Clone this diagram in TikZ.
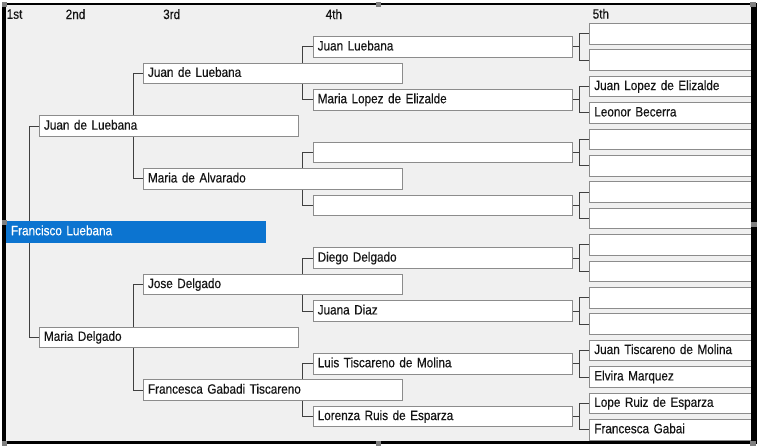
\documentclass[tikz,border=0pt]{standalone}
\usepackage{fontspec}
\setmainfont{Liberation Sans}[FakeStretch=0.87,FakeBold=0.35]
\usetikzlibrary{calc}
\definecolor{bgc}{RGB}{240,240,240}
\definecolor{boxc}{RGB}{140,140,140}
\definecolor{conc}{RGB}{64,64,64}
\definecolor{selblue}{RGB}{12,116,208}
\definecolor{handlec}{RGB}{128,128,128}
\definecolor{txtc}{RGB}{20,20,20}
\newcommand{\treefont}{\fontsize{13.5}{15}\selectfont\spaceskip=2.4pt plus 0.2pt minus 0.2pt\relax}
\pgfdeclarelayer{back}
\pgfdeclarelayer{lines}
\pgfdeclarelayer{front}
\pgfsetlayers{back,lines,main,front}
\tikzset{
  pbox/.style={draw=boxc, fill=white, line width=1pt, anchor=west,
    minimum height=20.5pt, inner xsep=4.5pt, inner ysep=0pt,
    text width=250pt, align=left, text height=9.8pt, text depth=2.9pt,
    text=txtc, font=\treefont},
  nbox/.style={pbox, text width=155pt},
  selbox/.style={pbox, fill=selblue, draw=selblue, text=white},
  conn/.style={draw=conc, line width=1pt},
  hdr/.style={anchor=west, inner sep=0pt, text=txtc, font=\treefont},
  handlebox/.style={fill=handlec, draw=none}
}
\begin{document}
\begin{tikzpicture}[x=1pt,y=-1pt]
\useasboundingbox (0,0) rectangle (757,446);
\begin{pgfonlayer}{back}
  \fill[white] (0,0) rectangle (757,446);
  \fill[bgc] (6,5) rectangle (751,441);
\end{pgfonlayer}

% headers
\node[hdr] (h1) at (6.5,14.2) {1st};
\node[hdr] (h2) at (65.5,14.2) {2nd};
\node[hdr] (h3) at (163,14.2) {3rd};
\node[hdr] (h4) at (325.5,14.2) {4th};
\node[hdr] (h5) at (592.5,13.8) {5th};

% generation 1
\node[selbox] (g1) at (6,231.8) {Francisco Luebana};

% generation 2
\node[pbox] (g2a) at (39,126.2) {Juan de Luebana};
\node[pbox] (g2b) at (39,337.4) {Maria Delgado};

% generation 3
\node[pbox] (g3a) at (143,73.4) {Juan de Luebana};
\node[pbox] (g3b) at (143,179.0) {Maria de Alvarado};
\node[pbox] (g3c) at (143,284.6) {Jose Delgado};
\node[pbox] (g3d) at (143,390.2) {Francesca Gabadi Tiscareno};

% generation 4
\node[pbox] (g4a) at (312.7,47.0) {Juan Luebana};
\node[pbox] (g4b) at (312.7,99.8) {Maria Lopez de Elizalde};
\node[pbox] (g4c) at (312.7,152.6) {};
\node[pbox] (g4d) at (312.7,205.4) {};
\node[pbox] (g4e) at (312.7,258.2) {Diego Delgado};
\node[pbox] (g4f) at (312.7,311.0) {Juana Diaz};
\node[pbox] (g4g) at (312.7,363.8) {Luis Tiscareno de Molina};
\node[pbox] (g4h) at (312.7,416.6) {Lorenza Ruis de Esparza};

% generation 5
\node[nbox] (g5a) at (589.3,33.8) {};
\node[nbox] (g5b) at (589.3,60.2) {};
\node[nbox] (g5c) at (589.3,86.6) {Juan Lopez de Elizalde};
\node[nbox] (g5d) at (589.3,113.0) {Leonor Becerra};
\node[nbox] (g5e) at (589.3,139.4) {};
\node[nbox] (g5f) at (589.3,165.8) {};
\node[nbox] (g5g) at (589.3,192.2) {};
\node[nbox] (g5h) at (589.3,218.6) {};
\node[nbox] (g5i) at (589.3,245.0) {};
\node[nbox] (g5j) at (589.3,271.4) {};
\node[nbox] (g5k) at (589.3,297.8) {};
\node[nbox] (g5l) at (589.3,324.2) {};
\node[nbox] (g5m) at (589.3,350.6) {Juan Tiscareno de Molina};
\node[nbox] (g5n) at (589.3,377.0) {Elvira Marquez};
\node[nbox] (g5o) at (589.3,403.4) {Lope Ruiz de Esparza};
\node[nbox] (g5p) at (589.3,429.8) {Francesca Gabai};

% connectors
\begin{pgfonlayer}{lines}
  \draw[conn] (g2a.west) -- ++(-10,0) |- (g2b.west);
  \draw[conn] (g3a.west) -- ++(-10,0) |- (g3b.west);
  \draw[conn] (g3c.west) -- ++(-10,0) |- (g3d.west);
  \draw[conn] (g4a.west) -- ++(-10,0) |- (g4b.west);
  \draw[conn] (g4c.west) -- ++(-10,0) |- (g4d.west);
  \draw[conn] (g4e.west) -- ++(-10,0) |- (g4f.west);
  \draw[conn] (g4g.west) -- ++(-10,0) |- (g4h.west);
  \draw[conn] (g5a.west) -- ++(-10,0) coordinate (ja) |- (g5b.west);
  \draw[conn] (g4a.east) -- (g4a.east -| ja);
  \draw[conn] (g5c.west) -- ++(-10,0) coordinate (jb) |- (g5d.west);
  \draw[conn] (g4b.east) -- (g4b.east -| jb);
  \draw[conn] (g5e.west) -- ++(-10,0) coordinate (jc) |- (g5f.west);
  \draw[conn] (g4c.east) -- (g4c.east -| jc);
  \draw[conn] (g5g.west) -- ++(-10,0) coordinate (jd) |- (g5h.west);
  \draw[conn] (g4d.east) -- (g4d.east -| jd);
  \draw[conn] (g5i.west) -- ++(-10,0) coordinate (je) |- (g5j.west);
  \draw[conn] (g4e.east) -- (g4e.east -| je);
  \draw[conn] (g5k.west) -- ++(-10,0) coordinate (jf) |- (g5l.west);
  \draw[conn] (g4f.east) -- (g4f.east -| jf);
  \draw[conn] (g5m.west) -- ++(-10,0) coordinate (jg) |- (g5n.west);
  \draw[conn] (g4g.east) -- (g4g.east -| jg);
  \draw[conn] (g5o.west) -- ++(-10,0) coordinate (jh) |- (g5p.west);
  \draw[conn] (g4h.east) -- (g4h.east -| jh);
\end{pgfonlayer}

% frame and selection handles
\begin{pgfonlayer}{front}
  \fill[black] (2,3) rectangle (757,5);
  \fill[black] (2,3) rectangle (6,443.5);
  \fill[black] (751,3) rectangle (757,443.5);
  \fill[black] (2,441) rectangle (757,443.5);
  \fill[handlebox] (1.5,2.5) rectangle ++(5,4.5);
  \fill[handlebox] (376,2.5) rectangle ++(5,4.5);
  \fill[handlebox] (750,2.5) rectangle ++(6,4.5);
  \fill[handlebox] (1.5,220.5) rectangle ++(5,4.5);
  \fill[handlebox] (750.5,222) rectangle ++(6,5);
  \fill[handlebox] (1.5,440.5) rectangle ++(5,5);
  \fill[handlebox] (376,440.5) rectangle ++(5,5);
  \fill[handlebox] (750,440.5) rectangle ++(6,5);
\end{pgfonlayer}
\end{tikzpicture}
\end{document}
